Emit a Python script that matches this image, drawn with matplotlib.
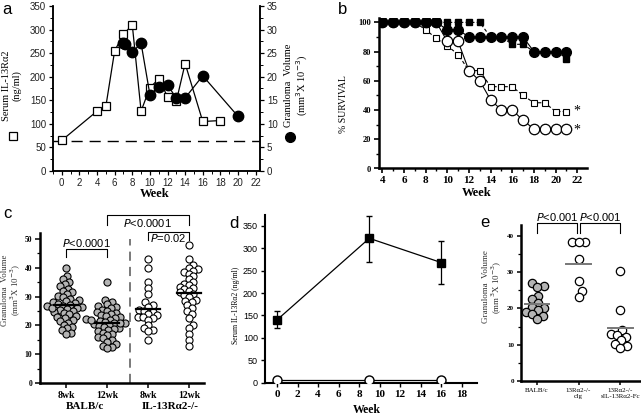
import numpy as np
import matplotlib
matplotlib.use("Agg")
import matplotlib.pyplot as plt
from matplotlib.lines import Line2D

SERIF = "Liberation Serif"
SANS = "Liberation Sans"

# ---------------- data ----------------
# panel a
a_sq_week = [0, 4, 5, 6, 7, 8, 9, 10, 11, 12, 13, 14, 16, 18]
a_sq_serum = [65, 127, 137, 255, 290, 310, 127, 177, 195, 158, 148, 228, 105, 107]
a_ci_week = [7, 7.2, 8, 9, 10, 11, 12, 13, 14, 16, 20]
a_ci_gran = [27.1, 27.0, 25.2, 27.1, 16.2, 17.8, 18.2, 15.5, 15.5, 20.2, 11.6]
a_baseline = 63

# panel b
b_week = list(range(4, 22))
b_filled_circle = [100, 100, 100, 100, 100, 100, 95, 95, 90, 90, 90, 90, 90, 90, 80, 80, 80, 80]
b_filled_square = [100, 100, 100, 100, 100, 100, 100, 100, 100, 100, 90, 90, 85, 85, 80, 80, 80, 75]
b_open_square = [100, 100, 100, 100, 95, 89, 84, 78, 67, 67, 56, 56, 56, 50, 45, 45, 39, 39]
b_open_circle = [100, 100, 100, 100, 100, 100, 87, 87, 67, 60, 47, 40, 40, 33, 27, 27, 27, 27]

# panel c
c_labels = ["8wk", "12wk", "8wk", "12wk"]
c_groups = ["BALB/c", "IL-13R\u03b12-/-"]
c_balb_8 = [40, 37, 36, 35.2, 34.3, 33.6, 32.8, 32.1, 31.5, 30.9, 30.3, 29.8, 29.3, 28.8,
            28.4, 28.0, 27.7, 27.4, 27.1, 26.9, 26.6, 26.3, 26.0, 25.7, 25.4, 25.0, 24.6,
            24.2, 23.8, 23.4, 23.0, 22.5, 22.0, 21.5, 21.0, 20.3, 19.6, 19.0, 18.3, 17.5,
            17.0, 26.2]
c_balb_12 = [35, 29, 28, 27.3, 26.8, 26.3, 25.9, 25.5, 25.1, 24.7, 24.3, 23.9, 23.5, 23.1,
             22.8, 22.5, 22.2, 21.9, 21.6, 21.3, 21.0, 20.7, 20.4, 20.1, 19.8, 19.5, 19.1,
             18.7, 18.3, 17.9, 17.5, 17.0, 16.5, 16.0, 15.5, 15.0, 14.3, 13.5, 13.0, 12.5,
             12.0, 20.9, 22.0]
c_ko_8 = [43, 40, 35, 33, 31, 28, 27, 26.5, 25.5, 25, 24.5, 24, 23.5, 23, 22.8, 22.5, 22,
          20, 19, 18.5, 18, 15]
c_ko_12 = [48, 43, 41, 40, 39.5, 39, 38.5, 38, 37, 36, 35, 34.5, 34, 33.5, 33, 32.5, 32,
           31.5, 31, 30.5, 30, 29, 28.5, 28, 27, 26, 25, 24, 22.5, 20, 19, 17, 15, 13]
c_means = [27.2, 20.8, 25.8, 31.3]

# panel d
d_week = [0, 9, 16]
d_sq = [140, 322, 268]
d_sq_err_lo = [17, 52, 47]
d_sq_err_hi = [20, 50, 47]
d_ci = [7, 7, 7]

# panel e
e_labels = ["BALB/c", "13R\u03b12-/-\ncIg", "13R\u03b12-/-\nsIL-13R\u03b12-Fc"]
e_balb = [27, 26.3, 26, 23.5, 22.5, 21.5, 20.5, 20, 19.5, 19, 18.5, 18, 17.2]
e_cig = [38.3, 38.3, 38.3, 33.6, 27.7, 24.8, 23.2]
e_fc = [30.3, 19.7, 14, 13, 12.8, 12, 11.2, 10.3, 9.6, 9.2]
e_means = [21.1, 32.3, 14.6]

W, H = 641, 415
fig = plt.figure(figsize=(W / 100, H / 100), dpi=100)


def box(l, t, r, b):
    return [l / W, 1 - b / H, (r - l) / W, (b - t) / H]


def ftext(x, y, s, **kw):
    fig.text(x / W, 1 - y / H, s, **kw)


def style_ticks(ax, family, size, weight="normal", color="black"):
    for lab in ax.get_xticklabels() + ax.get_yticklabels():
        lab.set_fontfamily(family)
        lab.set_fontsize(size)
        lab.set_fontweight(weight)
        lab.set_color(color)


def swarm(ax, xc, vals, d):
    # simple beeswarm in pixel space
    tr = ax.transData
    x0 = tr.transform((xc, 0))[0]
    order = np.argsort(vals)
    placed = []
    out = np.zeros(len(vals))
    for i in order:
        yp = tr.transform((xc, vals[i]))[1]
        cands = [0.0]
        for (px, py) in placed:
            dy = yp - py
            if abs(dy) < d:
                dx = np.sqrt(d * d - dy * dy)
                cands += [px - x0 + dx, px - x0 - dx]
        cands.sort(key=abs)
        for c in cands:
            ok = all((x0 + c - px) ** 2 + (yp - py) ** 2 >= d * d - 1e-6 for px, py in placed)
            if ok:
                break
        placed.append((x0 + c, yp))
        out[i] = tr.inverted().transform((x0 + c, yp))[0]
    return out


# ---------------- panel a ----------------
ax = fig.add_axes(box(53, 6, 260, 171))
ax2 = ax.twinx()
ax.set_xlim(-1, 22.5)
ax.set_ylim(0, 350)
ax2.set_ylim(0, 35)
ax.axhline(a_baseline, color="black", lw=1, dashes=(8, 5))
ax.plot(a_sq_week, a_sq_serum, color="black", lw=0.9, marker="s", ms=6,
        mfc="white", mec="black", mew=0.9, zorder=3)
ax2.plot(a_ci_week, a_ci_gran, color="black", lw=0.9, marker="o", ms=7.5,
         mfc="black", mec="black", zorder=3)
for s in ["top"]:
    ax.spines[s].set_visible(False)
    ax2.spines[s].set_visible(False)
for a_ in (ax, ax2):
    for s in a_.spines.values():
        s.set_linewidth(1.1)
ax.set_xticks(range(0, 23, 2))
ax.set_xticks(range(-1, 23, 1), minor=True)
ax.set_yticks(range(0, 351, 50))
ax.set_yticks(range(0, 351, 25), minor=True)
ax2.set_yticks(range(0, 36, 5))
ax2.set_yticks(np.arange(0, 35.1, 2.5), minor=True)
ax.tick_params(length=3, width=0.9, pad=2)
ax.tick_params(which="minor", length=2, width=0.7)
ax2.tick_params(length=3, width=0.9, pad=2)
ax2.tick_params(which="minor", length=2, width=0.7)
style_ticks(ax, SANS, 7, color="#222222")
style_ticks(ax2, SANS, 7, color="#222222")
ftext(155, 194, "Week", family=SERIF, weight="bold", fontsize=9, ha="center", va="center")
ftext(12, 86, "Serum IL-13R\u03b12\n(ng/ml)", family=SERIF, fontsize=7.5, rotation=90,
      ha="center", va="center", linespacing=1.1)
fig.add_artist(Line2D([13 / W], [1 - 136 / H], marker="s", ms=6, mfc="white",
                      mec="black", mew=0.9, transform=fig.transFigure))
ftext(297, 85, "Granuloma  Volume\n(mm$^3$X 10$^{-3}$)", family=SERIF, fontsize=7.5,
      rotation=90, ha="center", va="center", linespacing=1.1)
fig.add_artist(Line2D([290 / W], [1 - 137 / H], marker="o", ms=7, mfc="black",
                      mec="black", transform=fig.transFigure))
ftext(7, 9, "a", family=SANS, fontsize=12, ha="center", va="center")

# ---------------- panel b ----------------
bx = fig.add_axes(box(379, 18, 587, 168.5))
bx.set_xlim(3.7, 22.9)
bx.set_ylim(0, 103)
bx.plot(b_week, b_open_square, color="black", lw=0.8, ls=(0, (3, 2)), marker="s", ms=4.5,
        mfc="white", mec="black", mew=0.8, zorder=3)
bx.plot(b_week, b_open_circle, color="black", lw=0.8, marker="o", ms=7.5,
        mfc="white", mec="black", mew=0.9, zorder=4)
bx.plot(b_week, b_filled_square, color="black", lw=0.8, ls=(0, (3, 2)), marker="s", ms=5,
        mfc="black", mec="black", zorder=3)
bx.plot(b_week, b_filled_circle, color="black", lw=0.8, marker="o", ms=7,
        mfc="black", mec="black", zorder=5)
bx.text(22.0, 39, "*", family=SERIF, fontsize=10, ha="center", va="center")
bx.text(22.0, 26, "*", family=SERIF, fontsize=10, ha="center", va="center")
for s in ["top", "right"]:
    bx.spines[s].set_visible(False)
for s in ["left", "bottom"]:
    bx.spines[s].set_linewidth(1.8)
bx.set_xticks(range(4, 23, 2))
bx.set_xticks(range(4, 23, 1), minor=True)
bx.set_yticks(range(0, 101, 20))
bx.set_yticks(range(0, 101, 10), minor=True)
bx.tick_params(length=3.5, width=1.2, pad=2)
bx.tick_params(which="minor", length=2, width=1)
style_ticks(bx, SERIF, 8, weight="bold")
for lab in bx.get_yticklabels():
    lab.set_fontsize(6)
ftext(477, 193, "Week", family=SERIF, weight="bold", fontsize=9, ha="center", va="center")
ftext(344, 104, "% SURVIVAL", family=SERIF, fontsize=7, rotation=90, ha="center", va="center")
ftext(343, 9, "b", family=SANS, fontsize=12, ha="center", va="center")

# ---------------- panel c ----------------
cx = fig.add_axes(box(40, 233, 204, 383))
cx.set_xlim(-0.634, 3.37)
cx.set_ylim(0, 52.1)
c_data = [c_balb_8, c_balb_12, c_ko_8, c_ko_12]
for i, vals in enumerate(c_data):
    xs = swarm(cx, i, vals, 5.2)
    fc = "#b4b4b4" if i < 2 else "white"
    cx.scatter(xs, vals, s=26, facecolor=fc, edgecolor="black", linewidths=0.8, zorder=3)
    cx.plot([i - 0.3, i + 0.3], [c_means[i]] * 2, color="black", lw=1.6, zorder=4)
cx.plot([1.56, 1.56], [0, 50], color="#555555", lw=1.1, dashes=(6, 4))
for s in ["top", "right"]:
    cx.spines[s].set_visible(False)
for s in ["left", "bottom"]:
    cx.spines[s].set_linewidth(1.8)
cx.set_yticks(range(0, 51, 10))
cx.set_yticks(range(0, 51, 5), minor=True)
cx.set_xticks(range(4))
cx.set_xticklabels(c_labels)
cx.tick_params(length=3.5, width=1.1, pad=2)
cx.tick_params(which="minor", length=2, width=0.9)
style_ticks(cx, SERIF, 7, weight="bold")
for lab in cx.get_yticklabels():
    lab.set_fontsize(5.5)


def bracket(ax, x1, x2, ytop, yleg, label, ytext, fs=8):
    ax.plot([x1, x1, x2, x2], [yleg, ytop, ytop, yleg], color="black", lw=0.8,
            clip_on=False)
    ax.text((x1 + x2) / 2, ytext, label, family=SANS, fontsize=fs, ha="center",
            va="center", clip_on=False)


bracket(cx, 0, 1, 46.5, 43.8, "$P$<0.0001", 48.7)
bracket(cx, 1, 3, 58.2, 54.8, "$P$<0.0001", 55.5)
bracket(cx, 2, 3, 52.3, 49.6, "$P$=0.02", 50.5)
ftext(85, 406, c_groups[0], family=SERIF, weight="bold", fontsize=8, ha="center", va="center")
ftext(170, 406, c_groups[1], family=SERIF, weight="bold", fontsize=8, ha="center", va="center")
ftext(12, 290, "Granuloma  Volume\n(mm$^3$X 10$^{-3}$)", family=SERIF, fontsize=6.3,
      rotation=90, ha="center", va="center", linespacing=1.0, color="#333333")
ftext(7, 213, "c", family=SANS, fontsize=12, ha="center", va="center")

# ---------------- panel d ----------------
dx = fig.add_axes(box(265, 215, 477, 382.7))
dx.set_xlim(-1.17, 19.5)
dx.set_ylim(0, 374)
dx.errorbar(d_week, d_sq, yerr=[d_sq_err_lo, d_sq_err_hi], color="black", lw=0.9,
            marker="s", ms=5.5, mfc="black", capsize=2.5, elinewidth=0.9, zorder=3)
dx.plot(d_week, d_ci, color="black", lw=0.9, marker="o", ms=6.5, mfc="white",
        mec="black", mew=1, zorder=3)
for s in ["top", "right"]:
    dx.spines[s].set_visible(False)
for s in ["left", "bottom"]:
    dx.spines[s].set_linewidth(1.5)
dx.set_xticks(range(0, 19, 2))
dx.set_yticks(range(0, 351, 50))
dx.tick_params(length=3, width=1, pad=2)
style_ticks(dx, SERIF, 8, weight="bold")
for lab in dx.get_yticklabels():
    lab.set_fontfamily(SANS)
    lab.set_fontweight("normal")
    lab.set_fontsize(6.5)
ftext(367, 410, "Week", family=SERIF, weight="bold", fontsize=8.5, ha="center", va="center")
ftext(236, 305, "Serum IL-13R\u03b12 (ng/ml)", family=SERIF, fontsize=5.5, rotation=90,
      ha="center", va="center")
ftext(234, 223, "d", family=SANS, fontsize=12, ha="center", va="center")

# ---------------- panel e ----------------
ex = fig.add_axes(box(521, 225, 640, 381))
ex.set_xlim(-0.386, 2.48)
ex.set_ylim(0, 43)
e_data = [e_balb, e_cig, e_fc]
for i, vals in enumerate(e_data):
    xs = swarm(ex, i, vals, 6.6)
    fc = "#b4b4b4" if i == 0 else "white"
    ex.scatter(xs, vals, s=36, facecolor=fc, edgecolor="black", linewidths=0.9, zorder=3)
    ex.plot([i - 0.3, i + 0.3], [e_means[i]] * 2, color="#777777", lw=1.4, zorder=4)
bracket(ex, 0, 0.97, 43.5, 40.7, "$P$<0.001", 45.3)
bracket(ex, 1.03, 2, 43.5, 40.7, "$P$<0.001", 45.3)
for s in ["top", "right"]:
    ex.spines[s].set_visible(False)
for s in ["left", "bottom"]:
    ex.spines[s].set_linewidth(1.8)
ex.set_yticks(range(0, 41, 10))
ex.set_yticks(range(0, 41, 5), minor=True)
ex.set_xticks(range(3))
ex.set_xticklabels(e_labels)
ex.tick_params(length=3, width=1.1, pad=2)
ex.tick_params(which="minor", length=2, width=0.9)
style_ticks(ex, SERIF, 5, weight="bold")
for lab in ex.get_xticklabels():
    lab.set_fontweight("normal")
    lab.set_linespacing(1.2)
ftext(493, 287, "Granuloma  Volume\n(mm$^3$X 10$^{-3}$)", family=SERIF, fontsize=6.5,
      rotation=90, ha="center", va="center", linespacing=1.0, color="#333333")
ftext(485, 222, "e", family=SANS, fontsize=12, ha="center", va="center")

fig.savefig("out.png", dpi=100)
